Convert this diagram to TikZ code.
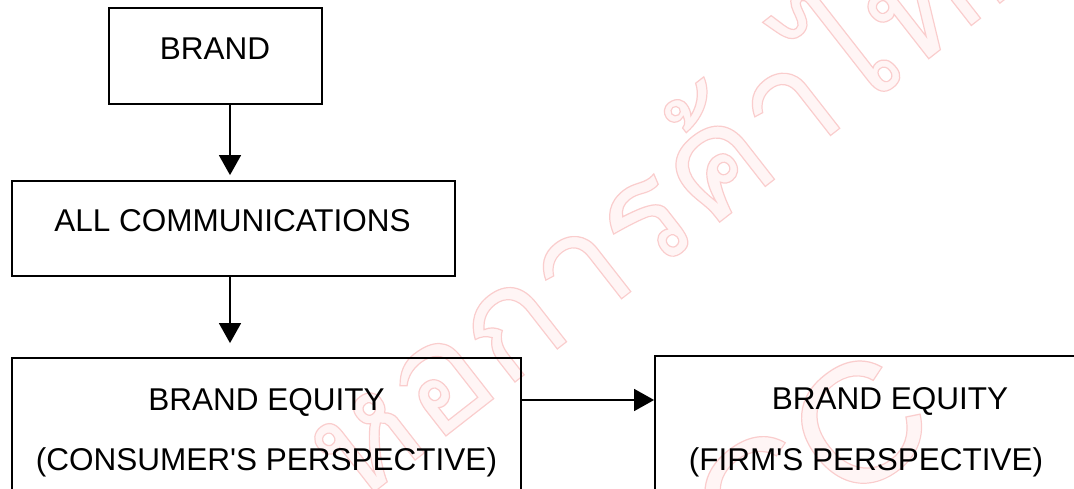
\documentclass[tikz,border=0pt]{standalone}
\usepackage{fontspec}
\setmainfont{Liberation Sans}
\newfontfamily\thaifont[Script=Thai]{Loma}
\usetikzlibrary{arrows.meta}
\definecolor{wmfill}{RGB}{255,245,245}
\definecolor{wmedge}{RGB}{250,205,205}
% outline-only text (PDF text render mode 1)
\newcommand\hollowtext[1]{\special{pdf:literal direct 1 Tr 1.2 w}#1\special{pdf:literal direct 0 Tr}}
\begin{document}
\begin{tikzpicture}[x=1pt,y=-1pt,
  box/.style={draw,line width=1.8pt,inner sep=0pt},
  lbl/.style={font=\fontsize{31.5}{36}\selectfont,inner sep=0pt,anchor=base},
  link/.style={line width=1.5pt,-{Triangle[length=20pt,width=22pt]}},
  wm/.style={inner sep=0pt,anchor=base west,rotate=38},
  wmthaifont/.style={font=\thaifont\fontsize{150}{160}\selectfont},
  wmlatinfont/.style={font=\fontsize{170}{190}\selectfont}]
\useasboundingbox (0,0) rectangle (1074,489);
\clip (0,0) rectangle (1074,489);

% faint library watermark behind the chart: light fill, pink outline
\node[wm,wmthaifont,text=wmfill] (wmthai) at (355,507) {หอการค้าไทย};
\node[wm,wmthaifont,text=wmedge] (wmthaiedge) at (355,507) {\hollowtext{หอการค้าไทย}};
\node[wm,wmlatinfont,text=wmfill] (wmutcc) at (571,724) {UTCC};
\node[wm,wmlatinfont,text=wmedge] (wmutccedge) at (571,724) {\hollowtext{UTCC}};

% boxes
\node[box,minimum width=213pt,minimum height=96pt] (brand) at (215.5,56) {};
\node[box,minimum width=443pt,minimum height=95pt] (comm) at (233.5,228.5) {};
\node[box,minimum width=509pt,minimum height=202pt] (eqc) at (266.5,459) {};
\node[box,minimum width=475pt,minimum height=204pt] (eqf) at (892.5,458) {};

% labels
\node[lbl] (tbrand) at (215,60) {BRAND};
\node[lbl] (tcomm) at (232.5,232) {ALL COMMUNICATIONS};
\node[lbl] (teqc1) at (266.5,410) {BRAND EQUITY};
\node[lbl] (teqc2) at (266.5,470) {(CONSUMER\textquotesingle S PERSPECTIVE)};
\node[lbl] (teqf1) at (890,409) {BRAND EQUITY};
\node[lbl] (teqf2) at (866,470) {(FIRM\textquotesingle S PERSPECTIVE)};

% connectors
\coordinate (col) at (230,0);
\coordinate (row) at (0,400);
\draw[link,shorten >=5pt] (brand.south -| col) -- (comm.north -| col);
\draw[link,shorten >=14pt] (comm.south -| col) -- (eqc.north -| col);
\draw[link] (eqc.east |- row) -- (eqf.west |- row);
\end{tikzpicture}
\end{document}
